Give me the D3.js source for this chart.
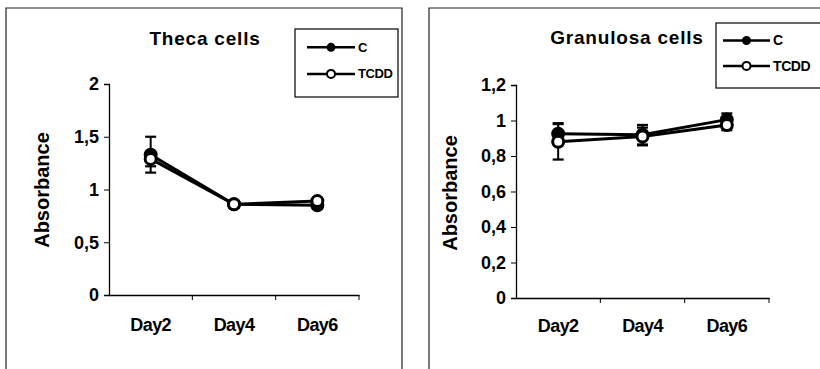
<!DOCTYPE html>
<html>
<head>
<meta charset="utf-8">
<script src="https://cdn.jsdelivr.net/npm/d3@7"></script>
<style>
  body { margin: 0; background: #fff; }
  svg { font-family: "Liberation Sans", Arial, sans-serif; }
</style>
</head>
<body>
<svg id="chart" width="820" height="369"></svg>
<script>
var days = ["Day2", "Day4", "Day6"];
var series = ["C", "TCDD"];

// Theca cells
var thecaC = [1.33, 0.86, 0.85];
var thecaCErr = [0.17, 0.03, 0.03];
var thecaT = [1.29, 0.86, 0.89];
var thecaTErr = [0.07, 0.03, 0.03];
var thecaTicks = [0, 0.5, 1, 1.5, 2];

// Granulosa cells
var granC = [0.925, 0.92, 1.005];
var granCErr = [0.06, 0.055, 0.035];
var granT = [0.88, 0.91, 0.975];
var granTErr = [0.1, 0.05, 0.03];
var granTicks = [0, 0.2, 0.4, 0.6, 0.8, 1, 1.2];

var svg = d3.select("#chart");
var fmt = function(v) { return String(v).replace(".", ","); };

function panel(o) {
    var g = svg.append("g");

    // outer frame (open at bottom)
    g.append("path")
    .attr("d", "M" + o.fx0 + ",369V" + o.fy0 + "H" + o.fx1 + "V369")
    .attr("fill", "none")
    .attr("stroke", "#222")
    .attr("stroke-width", 1.2);

    var x = d3.scaleBand().domain(days).range([o.x0, o.x1]);
    var y = d3.scaleLinear().domain([0, o.ymax]).range([o.y0, o.y1]);

    var yAxis = g.append("g")
    .attr("transform", "translate(" + o.x0 + ",0)")
    .call(d3.axisLeft(y).tickValues(o.ticks).tickFormat(fmt).tickSize(5).tickPadding(5));
    yAxis.selectAll("text")
    .style("font-size", "18px")
    .style("font-weight", "bold")
    .attr("fill", "#000");

    var xAxis = g.append("g")
    .attr("transform", "translate(0," + o.y0 + ")")
    .call(d3.axisBottom(x).tickSize(0).tickPadding(o.xPad));
    xAxis.selectAll("text")
    .style("font-size", "18px")
    .style("font-weight", "bold")
    .style("letter-spacing", "-0.6px")
    .attr("fill", "#000");
    // category separator ticks
    xAxis.selectAll(".sep")
    .data(days)
    .enter().append("line")
    .attr("class", "sep")
    .attr("x1", function(d) { return x(d) + x.bandwidth(); })
    .attr("x2", function(d) { return x(d) + x.bandwidth(); })
    .attr("y1", 0).attr("y2", 5)
    .attr("stroke", "#000");

    g.selectAll(".domain").attr("stroke", "#000").attr("stroke-width", 1.3);
    g.selectAll(".tick line").attr("stroke", "#000");

    var cx = function(d, i) { return x(days[i]) + x.bandwidth() / 2; };
    var sets = [
        {vals: o.c, err: o.cErr, fill: "#000"},
        {vals: o.t, err: o.tErr, fill: "#fff"}
    ];

    sets.forEach(function(s) {
        // error bars
        var eb = g.selectAll(null).data(s.vals).enter().append("g");
        eb.append("line")
        .attr("x1", cx).attr("x2", cx)
        .attr("y1", function(d, i) { return y(d - s.err[i]); })
        .attr("y2", function(d, i) { return y(d + s.err[i]); })
        .attr("stroke", "#000").attr("stroke-width", 2);
        eb.append("line")
        .attr("x1", function(d, i) { return cx(d, i) - 5.5; })
        .attr("x2", function(d, i) { return cx(d, i) + 5.5; })
        .attr("y1", function(d, i) { return y(d + s.err[i]); })
        .attr("y2", function(d, i) { return y(d + s.err[i]); })
        .attr("stroke", "#000").attr("stroke-width", 2.2);
        eb.append("line")
        .attr("x1", function(d, i) { return cx(d, i) - 5.5; })
        .attr("x2", function(d, i) { return cx(d, i) + 5.5; })
        .attr("y1", function(d, i) { return y(d - s.err[i]); })
        .attr("y2", function(d, i) { return y(d - s.err[i]); })
        .attr("stroke", "#000").attr("stroke-width", 2.2);
    });

    sets.forEach(function(s) {
        g.append("path")
        .datum(s.vals)
        .attr("fill", "none")
        .attr("stroke", "#000")
        .attr("stroke-width", 3)
        .attr("d", d3.line().x(cx).y(function(d) { return y(d); }));
        g.selectAll(null).data(s.vals).enter().append("circle")
        .attr("cx", cx)
        .attr("cy", function(d) { return y(d); })
        .attr("r", 5.5)
        .attr("fill", s.fill)
        .attr("stroke", "#000")
        .attr("stroke-width", 3);
    });

    // title
    g.append("text")
    .attr("x", o.tx).attr("y", o.ty)
    .attr("text-anchor", "middle")
    .style("font-size", "19px")
    .style("font-weight", "bold")
    .style("letter-spacing", "0.8px")
    .text(o.title);

    // y label
    g.append("text")
    .attr("transform", "translate(" + o.lx + "," + o.ly + ") rotate(-90)")
    .attr("text-anchor", "middle")
    .style("font-size", "20px")
    .style("font-weight", "bold")
    .text("Absorbance");

    // legend
    var lg = g.append("g").attr("transform", "translate(" + o.legX + "," + o.legY + ")");
    lg.append("rect")
    .attr("width", o.legW).attr("height", o.legH)
    .attr("fill", "#fff").attr("stroke", "#000").attr("stroke-width", 1.2);
    var items = lg.selectAll(".item").data(series).enter().append("g")
    .attr("transform", function(d, i) { return "translate(" + o.legPad + "," + (o.legH * (i === 0 ? 0.27 : 0.66)) + ")"; });
    items.append("line")
    .attr("x1", 0).attr("x2", o.legLine)
    .attr("stroke", "#000").attr("stroke-width", 2.5);
    items.append("circle")
    .attr("cx", o.legLine / 2).attr("r", function(d, i) { return i === 0 ? 3.5 : 4; })
    .attr("fill", function(d, i) { return i === 0 ? "#000" : "#fff"; })
    .attr("stroke", "#000").attr("stroke-width", 2);
    items.append("text")
    .attr("x", o.legLine + 3).attr("dy", "0.35em")
    .style("font-size", o.legFont + "px")
    .style("font-weight", "bold")
    .style("letter-spacing", "-0.4px")
    .text(function(d) { return d; });
}

panel({
    fx0: 6, fx1: 402, fy0: 8,
    x0: 109, x1: 359, y0: 295, y1: 84, ymax: 2, ticks: thecaTicks, xPad: 23,
    c: thecaC, cErr: thecaCErr, t: thecaT, tErr: thecaTErr,
    title: "Theca cells", tx: 205, ty: 45,
    lx: 49, ly: 190,
    legX: 295, legY: 29, legW: 103, legH: 68, legPad: 12, legLine: 48, legFont: 13
});

panel({
    fx0: 429, fx1: 830, fy0: 8,
    x0: 516, x1: 769, y0: 298, y1: 85, ymax: 1.2, ticks: granTicks, xPad: 21,
    c: granC, cErr: granCErr, t: granT, tErr: granTErr,
    title: "Granulosa cells", tx: 627, ty: 44,
    lx: 457, ly: 193,
    legX: 716, legY: 23, legW: 110, legH: 65, legPad: 7, legLine: 47, legFont: 14
});
</script>
</body>
</html>
